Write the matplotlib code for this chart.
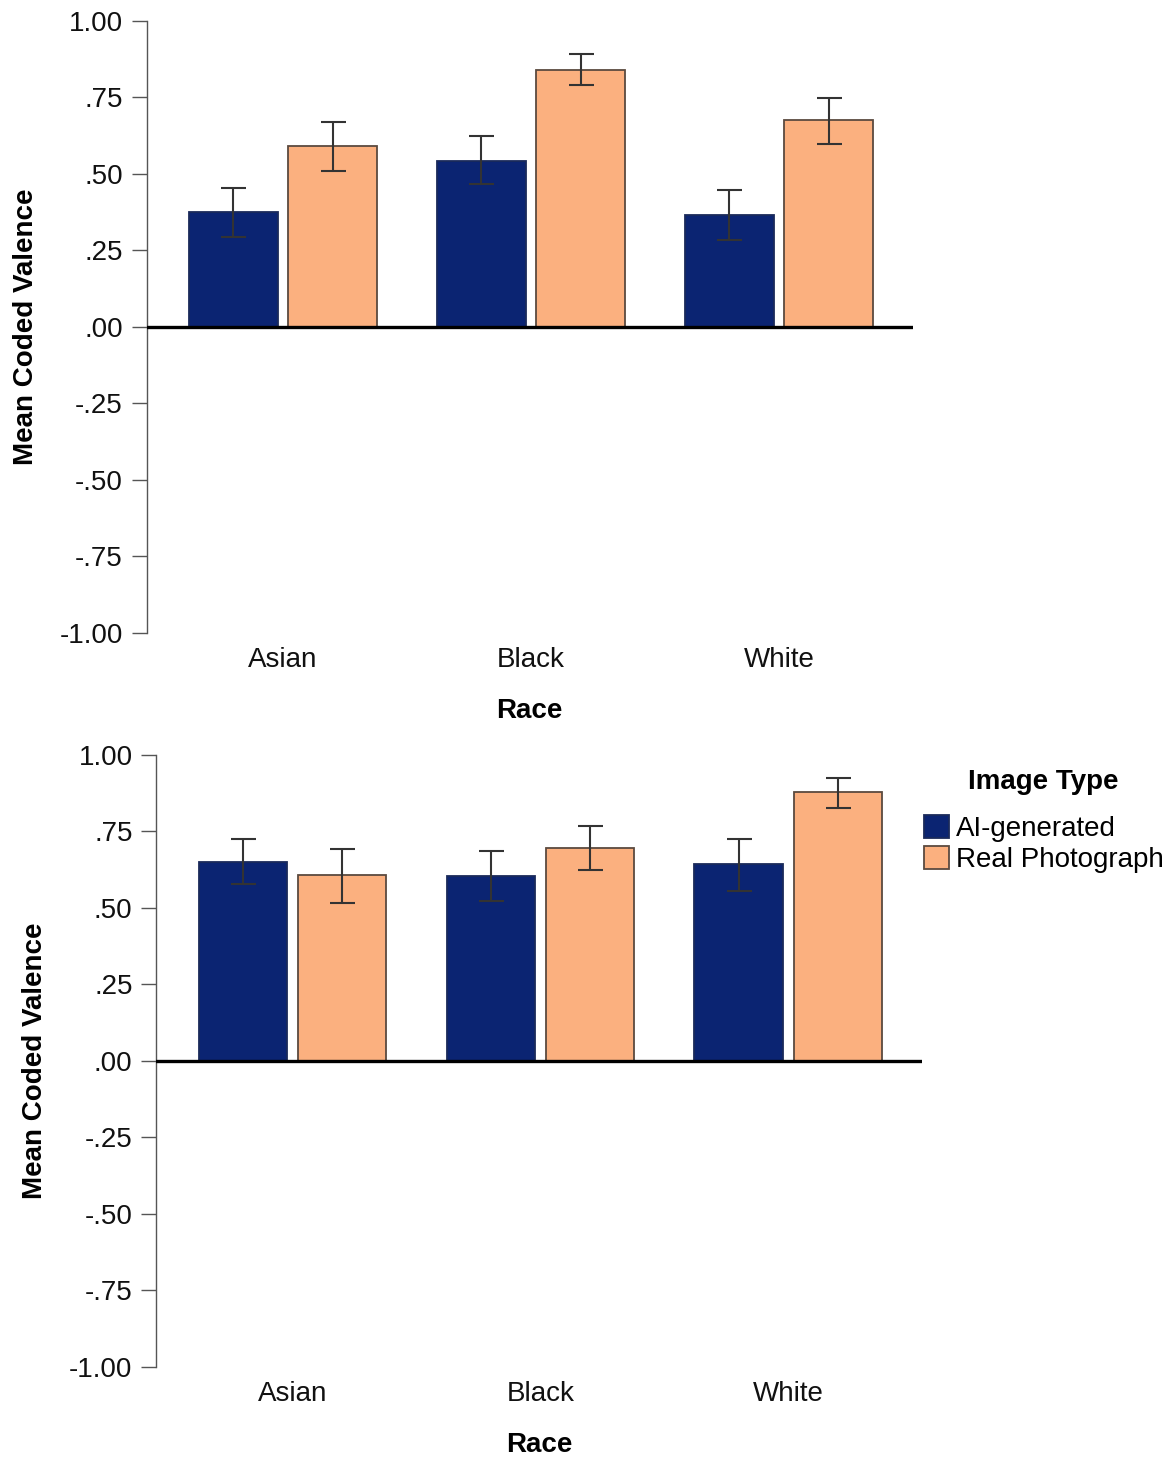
import matplotlib
matplotlib.use("Agg")
import matplotlib.pyplot as plt
from matplotlib.patches import Patch
import numpy as np

# ================== DATA ==================
RACES = ["Asian", "Black", "White"]
SERIES = ["AI-generated", "Real Photograph"]

# top panel: means and CI bounds
TOP_AI = [0.375, 0.541, 0.364]
TOP_AI_LO = [0.293, 0.467, 0.284]
TOP_AI_HI = [0.455, 0.623, 0.446]
TOP_REAL = [0.590, 0.839, 0.675]
TOP_REAL_LO = [0.508, 0.791, 0.598]
TOP_REAL_HI = [0.670, 0.891, 0.747]

# bottom panel
BOT_AI = [0.650, 0.603, 0.642]
BOT_AI_LO = [0.578, 0.522, 0.556]
BOT_AI_HI = [0.724, 0.685, 0.724]
BOT_REAL = [0.609, 0.695, 0.878]
BOT_REAL_LO = [0.517, 0.624, 0.828]
BOT_REAL_HI = [0.694, 0.766, 0.923]

YTICKS = [-1.0, -0.75, -0.5, -0.25, 0.0, 0.25, 0.5, 0.75, 1.0]
YTICK_LABELS = ["-1.00", "-.75", "-.50", "-.25", ".00", ".25", ".50", ".75", "1.00"]

# ================== STYLE ==================
NAVY = "#0b2472"
PEACH = "#fbb07f"
EDGE = "#5b4a3f"
NAVY_EDGE = "#1a2a5a"
ERR = "#333333"
FONT = "Liberation Sans"
FS = 20

plt.rcParams["font.family"] = [FONT, "DejaVu Sans"]

BAR_W = 0.357
OFFSET = 0.2


def draw_panel(ax, ai, ai_lo, ai_hi, real, real_lo, real_hi):
    x = np.arange(len(RACES))
    for vals, lo, hi, color, edge, sign in [
        (ai, ai_lo, ai_hi, NAVY, NAVY_EDGE, -1),
        (real, real_lo, real_hi, PEACH, EDGE, 1),
    ]:
        vals = np.asarray(vals)
        yerr = np.vstack([vals - np.asarray(lo), np.asarray(hi) - vals])
        ax.bar(x + sign * OFFSET, vals, width=BAR_W, color=color,
               edgecolor=edge, linewidth=1.3, zorder=2)
        ax.errorbar(x + sign * OFFSET, vals, yerr=yerr, fmt="none",
                    ecolor=ERR, elinewidth=1.5, capsize=9, capthick=1.5, zorder=3)

    ax.axhline(0, color="black", linewidth=2.4, zorder=4)
    ax.set_xlim(-0.55, 2.54)
    ax.set_ylim(-1, 1)
    ax.set_yticks(YTICKS)
    ax.set_yticklabels(YTICK_LABELS)
    ax.set_xticks(x)
    ax.set_xticklabels(RACES)

    for side in ["top", "right", "bottom"]:
        ax.spines[side].set_visible(False)
    ax.spines["left"].set_color("#555555")
    ax.spines["left"].set_linewidth(1.0)

    ax.tick_params(axis="y", length=11, width=1.0, color="#555555",
                   labelsize=FS, pad=6, labelcolor="#111111")
    ax.tick_params(axis="x", length=0, labelsize=FS, pad=10, labelcolor="#111111")

    ax.set_ylabel("Mean Coded Valence", fontsize=FS, fontweight="bold", labelpad=15)
    ax.set_xlabel("Race", fontsize=FS, fontweight="bold", labelpad=18)


fig = plt.figure(figsize=(11.67, 14.59), dpi=100)
ax1 = fig.add_axes([0.1256, 0.5663, 0.6567, 0.4195])
ax2 = fig.add_axes([0.1338, 0.0631, 0.6564, 0.4195])

draw_panel(ax1, TOP_AI, TOP_AI_LO, TOP_AI_HI, TOP_REAL, TOP_REAL_LO, TOP_REAL_HI)
draw_panel(ax2, BOT_AI, BOT_AI_LO, BOT_AI_HI, BOT_REAL, BOT_REAL_LO, BOT_REAL_HI)

# legend title placed separately to get the wider gap of the original
fig.text(1043 / 1167, 1 - 782 / 1459, "Image Type", ha="center", va="center",
         fontsize=FS, fontweight="bold")

handles = [
    Patch(facecolor=NAVY, edgecolor=NAVY_EDGE, linewidth=1.3, label=SERIES[0]),
    Patch(facecolor=PEACH, edgecolor=EDGE, linewidth=1.3, label=SERIES[1]),
]
fig.legend(
    handles=handles,
    loc="upper left",
    bbox_to_anchor=(924 / 1167, 1 - 815 / 1459),
    bbox_transform=fig.transFigure,
    frameon=False,
    fontsize=FS,
    handlelength=0.9,
    handleheight=0.9,
    handletextpad=0.25,
    labelspacing=0.15,
    borderpad=0,
    borderaxespad=0,
)

fig.savefig("out.png", dpi=100)
